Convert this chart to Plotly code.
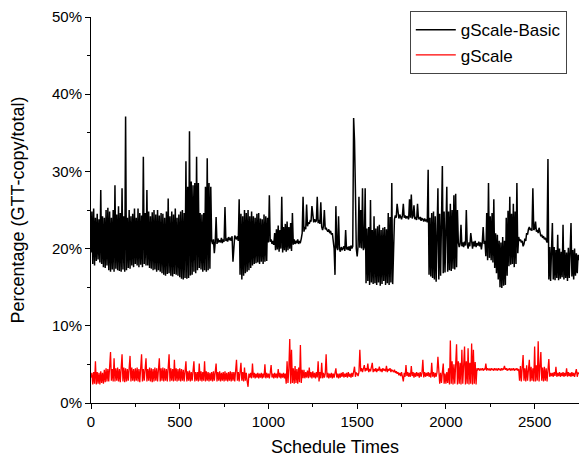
import plotly.graph_objects as go

# Schedule times (sampled every 5 schedules)
schedule_times = list(range(0, 2751, 5))

# gScale-Basic: percentage of GTT-copy / total, one row per 100 schedules
gscale_basic = [
    19.5, 24.8, 18.0, 25.2, 17.8, 24.0, 18.4, 24.5, 18.6, 23.8, 18.2, 27.6, 18.0, 24.2, 17.6, 24.0, 17.5, 25.0, 17.8, 25.3,
    17.2, 24.8, 17.0, 24.0, 17.3, 25.0, 17.0, 28.2, 17.4, 24.4, 17.2, 25.5, 17.1, 24.6, 17.0, 27.8, 17.3, 24.2, 17.0, 37.1,
    17.2, 24.0, 17.5, 25.0, 17.4, 24.2, 17.8, 24.5, 17.6, 25.2, 18.0, 24.0, 17.8, 25.2, 17.6, 24.6, 17.9, 24.3, 17.6, 31.9,
    18.0, 24.6, 17.8, 27.6, 17.8, 24.8, 17.5, 24.2, 17.4, 24.7, 17.2, 25.0, 17.3, 24.4, 17.0, 25.0, 17.2, 24.3, 17.0, 24.6,
    16.8, 24.5, 16.6, 24.0, 16.5, 24.8, 16.7, 26.5, 16.8, 24.2, 16.5, 24.8, 16.4, 24.4, 16.7, 25.2, 16.6, 24.0, 16.5, 24.4,
    16.3, 24.8, 16.1, 25.0, 16.0, 24.6, 16.2, 31.3, 16.1, 28.0, 16.2, 35.2, 16.5, 28.7, 16.6, 28.2, 17.0, 28.5, 16.8, 31.9,
    17.2, 28.5, 17.5, 24.6, 17.3, 24.4, 17.0, 24.6, 17.2, 28.0, 17.0, 31.7, 17.2, 28.5, 17.4, 28.0, 21.0, 20.6, 21.2, 19.4,
    20.8, 24.1, 20.6, 21.3, 20.9, 21.0, 20.8, 21.4, 20.7, 21.2, 20.9, 25.4, 21.0, 21.3, 20.9, 21.5, 21.1, 21.4, 21.0, 21.6,
    18.3, 21.2, 21.7, 21.4, 21.2, 21.6, 21.0, 26.4, 16.6, 24.5, 16.0, 24.2, 16.5, 25.0, 16.8, 24.6, 17.0, 25.0, 17.2, 24.2,
    17.5, 24.8, 17.8, 24.2, 18.0, 24.0, 18.1, 24.5, 18.2, 24.6, 18.0, 23.9, 18.3, 23.8, 18.0, 24.4, 18.3, 24.2, 18.4, 24.0,
    20.8, 26.9, 20.9, 21.2, 20.6, 21.0, 20.5, 22.0, 19.8, 22.5, 19.9, 23.0, 19.6, 22.4, 20.0, 26.7, 19.5, 22.8, 19.8, 23.2,
    19.6, 23.5, 19.8, 22.8, 20.0, 23.3, 19.7, 24.6, 20.5, 21.2, 20.6, 21.0, 20.7, 21.2, 20.6, 20.9, 20.8, 21.3, 22.0, 26.7,
    22.2, 22.8, 22.5, 25.7, 22.9, 23.4, 23.2, 23.6, 23.5, 25.5, 23.9, 23.4, 23.8, 23.5, 23.6, 26.7, 23.3, 23.7, 23.2, 26.0,
    22.8, 22.4, 22.9, 25.0, 22.5, 22.7, 22.4, 22.2, 22.5, 22.0, 22.3, 21.8, 22.0, 20.6, 20.0, 16.6, 25.5, 20.2, 19.8, 24.2,
    20.0, 19.6, 20.2, 19.8, 20.1, 20.3, 19.7, 22.4, 19.9, 20.2, 19.8, 20.3, 19.7, 20.4, 20.0, 20.3, 36.9, 34.0, 27.6, 20.0,
    19.0, 20.3, 26.7, 20.1, 25.0, 20.0, 27.8, 19.8, 20.2, 27.8, 15.5, 22.6, 15.8, 22.8, 15.3, 26.3, 15.6, 22.4, 15.4, 24.2,
    15.5, 22.6, 15.3, 22.9, 15.6, 23.1, 15.2, 22.4, 15.4, 22.7, 15.8, 22.8, 15.3, 22.5, 15.5, 24.6, 15.3, 24.1, 15.6, 28.5,
    15.4, 22.0, 23.8, 24.3, 24.0, 25.8, 24.2, 23.9, 24.4, 24.1, 23.8, 24.3, 25.8, 24.0, 24.3, 23.9, 24.2, 24.0, 23.8, 26.4,
    24.0, 27.0, 23.9, 24.2, 25.6, 23.8, 24.1, 23.7, 25.8, 24.0, 23.8, 24.1, 23.6, 23.9, 23.8, 23.5, 23.9, 23.6, 23.7, 23.4,
    30.2, 16.6, 24.0, 16.4, 24.6, 16.2, 24.8, 16.0, 24.2, 15.7, 25.0, 27.8, 16.0, 24.5, 16.5, 24.6, 30.7, 16.8, 24.8, 16.9,
    25.0, 28.0, 17.0, 24.8, 17.2, 25.8, 17.1, 25.0, 17.4, 26.9, 17.3, 27.1, 17.6, 25.0, 20.8, 20.2, 20.6, 23.1, 20.3, 20.8,
    20.2, 20.9, 20.4, 25.0, 20.6, 20.0, 20.8, 20.3, 22.0, 20.4, 20.0, 20.9, 20.3, 21.0, 20.2, 20.7, 20.4, 20.9, 20.3, 20.8,
    19.9, 20.8, 22.8, 20.6, 21.0, 19.0, 24.6, 18.5, 28.5, 18.8, 24.2, 18.5, 24.6, 18.2, 26.4, 17.5, 22.0, 16.8, 21.8, 16.0,
    21.0, 15.0, 20.8, 14.9, 21.5, 15.2, 21.0, 15.3, 24.0, 16.5, 24.9, 17.7, 26.7, 17.9, 24.5, 18.0, 25.8, 17.6, 24.8, 18.0,
    28.5, 19.4, 21.5, 21.0, 21.2, 20.8, 21.0, 20.3, 20.6, 21.3, 21.0, 22.0, 21.8, 22.5, 22.8, 22.4, 22.6, 22.3, 27.8, 22.4,
    22.6, 23.5, 22.2, 22.4, 22.0, 22.7, 21.9, 21.6, 21.8, 21.4, 21.6, 21.2, 21.4, 21.0, 20.8, 31.6, 16.0, 20.2, 15.8, 19.8,
    23.3, 16.0, 20.2, 15.9, 19.8, 16.2, 21.8, 15.9, 20.0, 16.1, 19.6, 16.3, 23.1, 16.0, 19.8, 16.2, 19.5, 15.8, 20.1, 16.2,
    19.6, 23.3, 16.4, 19.8, 16.0, 20.0, 16.5, 19.4, 16.8, 19.2, 18.5,
]

# gScale: percentage of GTT-copy / total, one row per 100 schedules
gscale = [
    3.3, 3.9, 2.4, 4.0, 2.5, 5.4, 2.4, 4.0, 2.5, 3.9, 2.4, 4.1, 2.6, 3.9, 2.5, 4.3, 2.7, 4.5, 2.8, 4.4,
    2.8, 4.5, 6.6, 2.9, 4.4, 2.8, 5.8, 2.8, 4.5, 2.9, 4.6, 2.8, 4.4, 2.7, 4.5, 6.3, 2.8, 4.6, 2.7, 4.5,
    2.8, 4.4, 2.9, 4.5, 6.1, 2.8, 4.6, 2.9, 4.4, 2.8, 4.5, 2.9, 4.6, 2.8, 4.4, 2.7, 4.5, 6.3, 2.8, 4.4,
    2.9, 4.5, 5.8, 2.8, 4.4, 2.9, 4.6, 2.8, 4.5, 2.7, 4.4, 2.8, 4.6, 2.9, 4.5, 2.8, 4.4, 5.8, 2.8, 4.5,
    2.9, 4.6, 2.8, 4.5, 2.9, 4.4, 2.8, 4.6, 6.3, 2.8, 4.5, 2.9, 4.4, 2.8, 5.6, 2.9, 4.5, 2.8, 4.4, 2.9,
    4.5, 2.8, 4.4, 2.9, 4.3, 2.8, 4.2, 5.4, 2.8, 4.1, 2.9, 4.2, 2.8, 4.0, 2.9, 4.1, 5.4, 2.8, 4.0, 2.9,
    4.0, 2.8, 5.1, 2.9, 4.1, 2.8, 4.0, 2.9, 5.4, 2.8, 4.1, 2.9, 4.0, 2.8, 3.9, 2.9, 4.0, 2.8, 4.1, 2.9,
    4.0, 5.1, 2.8, 4.0, 2.9, 4.1, 2.8, 3.9, 2.9, 4.0, 2.8, 4.1, 2.9, 3.9, 2.8, 4.0, 2.9, 4.1, 2.8, 4.0,
    2.9, 4.0, 2.8, 4.1, 5.6, 2.9, 4.0, 2.8, 4.1, 5.2, 2.9, 4.0, 2.8, 4.6, 2.9, 3.9, 2.8, 2.1, 3.8, 3.3,
    3.9, 3.2, 5.1, 3.3, 3.9, 3.2, 3.8, 3.3, 3.9, 3.2, 3.8, 3.3, 3.9, 3.2, 3.8, 3.3, 5.0, 3.2, 3.9, 3.3,
    3.8, 3.2, 3.9, 4.9, 3.3, 3.8, 3.2, 3.9, 3.3, 3.8, 3.2, 4.4, 3.3, 3.9, 3.2, 3.8, 3.3, 3.9, 3.2, 3.8,
    2.5, 5.4, 2.6, 4.5, 8.3, 2.5, 6.9, 2.6, 4.5, 2.5, 4.8, 2.6, 4.4, 2.5, 4.6, 2.7, 7.5, 2.6, 4.3, 3.2,
    4.3, 3.2, 4.0, 3.3, 4.2, 3.2, 4.6, 3.3, 4.0, 3.2, 4.1, 3.3, 3.9, 3.2, 4.0, 3.3, 5.4, 2.8, 4.0, 3.2,
    5.2, 3.2, 3.9, 3.3, 3.8, 6.3, 3.3, 3.9, 3.2, 3.8, 3.3, 3.9, 3.2, 3.8, 3.3, 3.9, 4.5, 3.3, 3.8, 3.2,
    3.8, 3.3, 3.9, 3.4, 4.0, 3.3, 3.8, 3.4, 3.9, 3.3, 4.0, 3.4, 3.8, 3.3, 3.9, 3.4, 4.0, 4.7, 3.4, 3.9,
    3.8, 3.5, 4.0, 6.9, 4.1, 4.5, 4.0, 4.4, 4.9, 4.1, 4.5, 4.2, 5.1, 4.0, 4.4, 4.1, 4.5, 5.2, 4.0, 4.4,
    4.1, 4.5, 4.0, 4.4, 4.2, 4.7, 4.1, 4.4, 4.0, 4.5, 4.2, 4.4, 4.1, 4.8, 4.0, 4.4, 4.2, 4.5, 4.0, 4.3,
    4.2, 4.0, 4.3, 3.9, 4.1, 3.8, 4.0, 3.6, 3.9, 3.5, 4.0, 3.4, 2.8, 3.9, 3.4, 4.9, 3.5, 4.0, 3.4, 3.9,
    3.4, 4.8, 3.5, 4.0, 3.3, 3.9, 3.4, 4.0, 3.5, 3.9, 3.3, 4.0, 3.4, 3.9, 5.6, 3.3, 4.0, 3.4, 3.9, 3.5,
    4.0, 3.4, 3.9, 3.3, 5.2, 3.4, 4.0, 3.3, 3.9, 3.4, 4.0, 6.0, 3.4, 2.5, 3.9, 2.6, 4.0, 5.1, 2.5, 3.8,
    2.5, 4.0, 2.6, 4.5, 2.4, 8.1, 2.5, 5.4, 2.4, 5.0, 2.5, 5.3, 7.6, 2.4, 5.4, 2.5, 5.2, 2.4, 6.9, 2.5,
    5.3, 7.3, 2.4, 5.4, 2.5, 7.1, 2.4, 5.2, 2.5, 7.7, 2.4, 6.9, 2.5, 5.3, 2.4, 4.5, 4.3, 4.5, 4.2, 4.4,
    4.3, 4.5, 4.2, 4.4, 4.3, 5.1, 4.2, 4.5, 4.3, 4.4, 4.2, 4.5, 4.3, 4.4, 4.2, 4.5, 4.3, 4.4, 4.2, 4.5,
    4.3, 4.4, 4.2, 4.5, 4.3, 4.4, 4.8, 4.3, 4.5, 4.2, 4.4, 4.3, 4.5, 4.2, 4.4, 4.3, 4.5, 4.2, 4.4, 4.3,
    4.5, 4.2, 4.4, 2.9, 4.8, 2.8, 4.6, 6.2, 2.9, 4.5, 2.8, 4.9, 2.9, 4.6, 5.6, 2.8, 4.7, 2.9, 4.5, 2.8,
    7.3, 2.8, 4.9, 2.9, 8.0, 2.8, 4.8, 6.6, 2.9, 4.6, 2.8, 4.7, 2.9, 4.5, 2.8, 4.6, 5.7, 3.4, 3.9, 3.5,
    3.9, 3.4, 4.0, 3.5, 4.7, 3.4, 3.9, 3.5, 4.0, 3.4, 3.9, 3.5, 4.0, 3.4, 3.9, 3.5, 4.5, 3.4, 4.0, 3.5,
    3.9, 3.4, 4.0, 3.5, 3.9, 3.4, 4.0, 4.4, 3.4, 3.9, 3.8,
]

assert len(gscale_basic) == len(schedule_times), len(gscale_basic)
assert len(gscale) == len(schedule_times), len(gscale)

series_names = ["gScale-Basic", "gScale"]
y_ticks = [0, 10, 20, 30, 40, 50]
y_tick_labels = ["0%", "10%", "20%", "30%", "40%", "50%"]
x_ticks = [0, 500, 1000, 1500, 2000, 2500]

FONT = "Liberation Sans, Arial, sans-serif"

fig = go.Figure()
fig.add_trace(go.Scatter(
    x=schedule_times, y=gscale_basic, mode="lines", name=series_names[0],
    line=dict(color="black", width=1.5),
))
fig.add_trace(go.Scatter(
    x=schedule_times, y=gscale, mode="lines", name=series_names[1],
    line=dict(color="#ff0000", width=1.3),
))

fig.update_layout(
    width=579, height=457,
    margin=dict(l=91, r=0, t=17, b=54),
    paper_bgcolor="white", plot_bgcolor="white",
    font=dict(family=FONT, size=15, color="black"),
    showlegend=True,
    legend=dict(
        x=0.975, y=1.015, xanchor="right", yanchor="top",
        bordercolor="#444444", borderwidth=1, bgcolor="white",
        font=dict(size=17, family=FONT), tracegroupgap=0,
        itemwidth=40,
    ),
)
fig.update_xaxes(
    range=[0, 2750], tickvals=x_ticks, showgrid=False, zeroline=False,
    showline=True, linecolor="black", linewidth=1,
    ticks="outside", ticklen=5, tickcolor="black",
    minor=dict(tickvals=[250, 750, 1250, 1750, 2250, 2750], ticks="outside",
               ticklen=3, tickcolor="black"),
    title=dict(text="Schedule Times", font=dict(size=18, family=FONT), standoff=12),
    tickfont=dict(size=15),
)
fig.update_yaxes(
    range=[0, 50], tickvals=y_ticks, ticktext=y_tick_labels,
    showgrid=False, zeroline=False,
    showline=True, linecolor="black", linewidth=1,
    ticks="outside", ticklen=5, tickcolor="black",
    minor=dict(tickvals=[5, 15, 25, 35, 45], ticks="outside",
               ticklen=3, tickcolor="black"),
    title=dict(text="Percentage (GTT-copy/total)", font=dict(size=18, family=FONT), standoff=22),
    tickfont=dict(size=15),
)

# remove the default 8px page margin so the figure sits at the window origin
fig.write_html("out.html", config={"displayModeBar": False},
               post_script="document.body.style.margin='0';")
